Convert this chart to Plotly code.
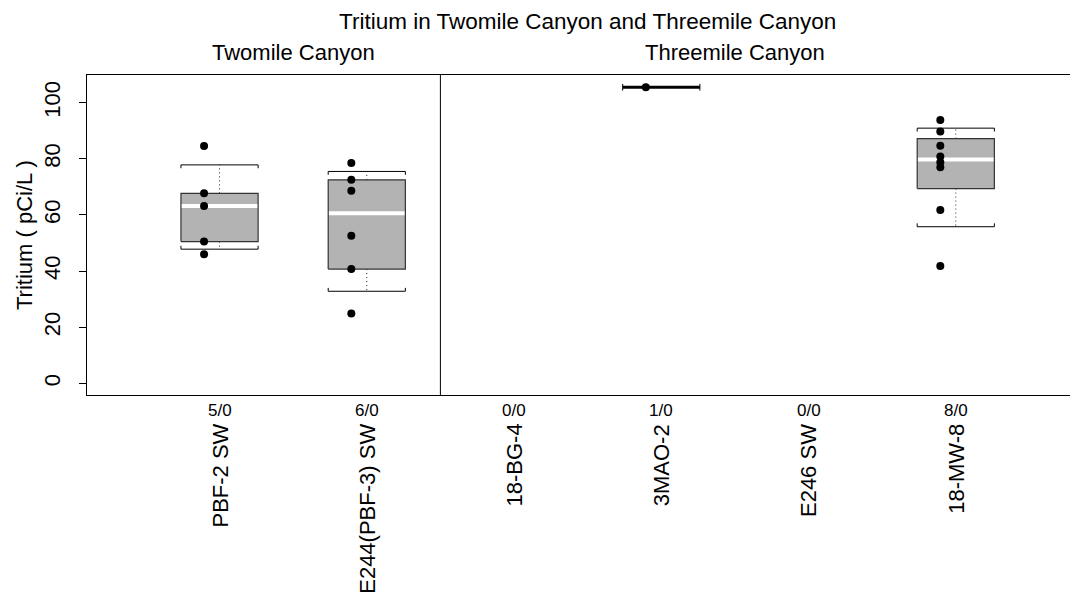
import numpy as np
import plotly.graph_objects as go

# ---------------- data ----------------
sites = ["PBF-2 SW", "E244(PBF-3) SW", "18-BG-4", "3MAO-2", "E246 SW", "18-MW-8"]
count_labels = ["5/0", "6/0", "0/0", "1/0", "0/0", "8/0"]
group_names = ["Twomile Canyon", "Threemile Canyon"]
group_sizes = [2, 4]

pbf2_sw = [84.6, 67.7, 63.2, 50.5, 46.0]
e244_pbf3_sw = [78.5, 72.5, 68.6, 52.6, 40.7, 24.9]
bg4_18 = []
mao2_3 = [105.5]
e246_sw = []
mw8_18 = [93.8, 89.7, 84.7, 80.8, 78.8, 77.0, 61.8, 41.8]
site_values = [pbf2_sw, e244_pbf3_sw, bg4_18, mao2_3, e246_sw, mw8_18]

title_text = "Tritium in Twomile Canyon and Threemile Canyon"
y_title = "Tritium ( pCi/L )"
y_ticks = [0, 20, 40, 60, 80, 100]

# ---------------- style ----------------
FONT = "Liberation Sans, Arial, Helvetica, sans-serif"
BOX_HW = 0.262      # half box width (x units)
PT_OFF = -0.105     # point offset from box centre
CAP_TICK = 1.2      # cap serif length (y units)
BOX_FILL = "#B3B3B3"
X_RANGE = [0.1, 6.83]
Y_RANGE = [-4.17, 109.87]
# the page body has an 8px default margin, so the figure is 8px smaller
FIG_W, FIG_H = 1070, 586


def fivenum(v):
    s = np.sort(np.asarray(v, float))
    n = len(s)
    n4 = np.floor((n + 3) / 2) / 2
    d = np.array([1, n4, (n + 1) / 2, n + 1 - n4, n])
    return 0.5 * (s[np.floor(d).astype(int) - 1] + s[np.ceil(d).astype(int) - 1])


fig = go.Figure()
positions = np.arange(1, len(sites) + 1)

for x, vals in zip(positions, site_values):
    if len(vals) == 0:
        continue
    fn = fivenum(vals)
    q1, med, q3 = fn[1], fn[2], fn[3]
    lo, hi = np.percentile(vals, [10, 90])
    x0, x1 = x - BOX_HW, x + BOX_HW
    # box fill
    fig.add_trace(go.Scatter(x=[x0, x1, x1, x0, x0], y=[q1, q1, q3, q3, q1],
                             mode="lines", fill="toself", fillcolor=BOX_FILL,
                             line=dict(width=0), hoverinfo="skip", showlegend=False))
    # whiskers (dotted)
    fig.add_trace(go.Scatter(x=[x, x, None, x, x], y=[q3, hi, None, q1, lo],
                             mode="lines", line=dict(color="#222222", width=1, dash="1px,3px"),
                             hoverinfo="skip", showlegend=False))
    # caps
    fig.add_trace(go.Scatter(x=[x0, x0, x1, x1, None, x0, x0, x1, x1],
                             y=[hi - CAP_TICK, hi, hi, hi - CAP_TICK, None,
                                lo + CAP_TICK, lo, lo, lo + CAP_TICK],
                             mode="lines", line=dict(color="black", width=1),
                             hoverinfo="skip", showlegend=False))
    # median
    flat = q3 <= q1
    fig.add_trace(go.Scatter(x=[x0, x1], y=[med, med], mode="lines",
                             line=dict(color="black" if flat else "white", width=3 if flat else 4),
                             hoverinfo="skip", showlegend=False))
    # box outline
    if not flat:
        fig.add_trace(go.Scatter(x=[x0, x1, x1, x0, x0], y=[q1, q1, q3, q3, q1],
                                 mode="lines", line=dict(color="#333333", width=1.2),
                                 hoverinfo="skip", showlegend=False))
    # data points
    fig.add_trace(go.Scatter(x=[x + PT_OFF] * len(vals), y=vals, mode="markers",
                             marker=dict(color="black", size=8),
                             hoverinfo="y", showlegend=False))

# panel divider and panel titles
annotations = []
start = 0
for gi, (gname, gsize) in enumerate(zip(group_names, group_sizes)):
    gpos = positions[start:start + gsize]
    annotations.append(dict(x=float(np.mean(gpos)), xref="x", y=1, yref="paper",
                            yshift=23, text=gname, showarrow=False,
                            xanchor="center", yanchor="middle",
                            font=dict(size=22, color="black", family=FONT)))
    if gi < len(group_sizes) - 1:
        fig.add_shape(type="line", xref="x", yref="paper",
                      x0=gpos[-1] + 0.5, x1=gpos[-1] + 0.5, y0=0, y1=1,
                      line=dict(color="black", width=1))
    start += gsize

# main title centred on the plot region
annotations.append(dict(x=float(np.mean(positions)), xref="x", y=1, yref="paper",
                        yshift=54, text=title_text, showarrow=False,
                        xanchor="center", yanchor="middle",
                        font=dict(size=22.5, color="black", family=FONT)))

# x labels: counts and site names
for x, cnt, name in zip(positions, count_labels, sites):
    annotations.append(dict(x=float(x), xref="x", y=0, yref="paper", yshift=-15.5,
                            text=cnt, showarrow=False, xanchor="center", yanchor="middle",
                            font=dict(size=17, color="black", family=FONT)))
    annotations.append(dict(x=float(x), xref="x", y=0, yref="paper", yshift=-27,
                            text=name, showarrow=False, textangle=-90,
                            xanchor="center", yanchor="top",
                            font=dict(size=22, color="black", family=FONT)))

# y title
annotations.append(dict(x=0, xref="paper", xshift=-63, y=0.5, yref="paper",
                        text=y_title, showarrow=False, textangle=-90,
                        xanchor="center", yanchor="middle",
                        font=dict(size=22, color="black", family=FONT)))

fig.update_layout(
    width=FIG_W, height=FIG_H,
    margin=dict(l=79, r=0, t=67, b=199, pad=0),
    paper_bgcolor="white", plot_bgcolor="white",
    font=dict(family=FONT, color="black"),
    annotations=annotations,
    xaxis=dict(range=X_RANGE, showticklabels=False, ticks="", showgrid=False,
               zeroline=False, showline=True, mirror=True, linecolor="black",
               linewidth=1, automargin=False),
    yaxis=dict(range=Y_RANGE, tickvals=y_ticks, ticks="outside", ticklen=7,
               tickcolor="black", tickwidth=1, showgrid=False, zeroline=False,
               showline=True, linecolor="black", linewidth=1, tickangle=-90,
               tickfont=dict(size=22, family=FONT, color="black"),
               ticklabelstandoff=10, automargin=False),
)

fig.write_html("out.html")
